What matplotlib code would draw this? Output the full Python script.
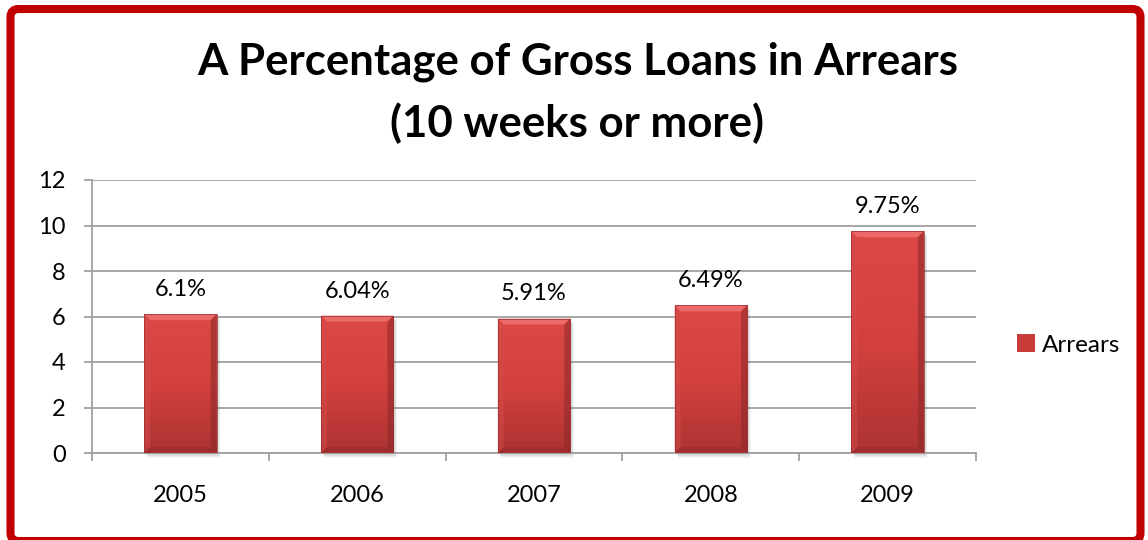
import numpy as np
import matplotlib
matplotlib.use('Agg')
import matplotlib.pyplot as plt
from matplotlib.patches import Polygon, Rectangle, FancyBboxPatch
from matplotlib.colors import LinearSegmentedColormap

# arrears as % of gross loans, 10 weeks or more
years = ['2005', '2006', '2007', '2008', '2009']
arrears = [6.1, 6.04, 5.91, 6.49, 9.75]
value_labels = ['6.1%', '6.04%', '5.91%', '6.49%', '9.75%']
y_ticks = [0, 2, 4, 6, 8, 10, 12]

plt.rcParams['font.family'] = ['Lato', 'DejaVu Sans']

W, H = 1148, 540
fig = plt.figure(figsize=(W / 100, H / 100), dpi=100)
ax_l, ax_r, ax_t, ax_b = 92, 976, 180, 453
ax = fig.add_axes([ax_l / W, 1 - ax_b / H, (ax_r - ax_l) / W, (ax_b - ax_t) / H])

xs = np.arange(len(years))
ax.set_xlim(-0.5, len(years) - 0.5)
ax.set_ylim(0, 12)

# size of one pixel in data units, used for bevel and shadow
px_x = len(years) / (ax_r - ax_l)
px_y = 12 / (ax_b - ax_t)

bars = ax.bar(xs, arrears, width=0.41, color='#C83C3A', zorder=3, label='Arrears')

face = LinearSegmentedColormap.from_list('face', ['#AC3332', '#D3413F', '#DC4846'])
grad = np.linspace(0, 1, 256).reshape(-1, 1)

for b in bars:
    x0, w, h = b.get_x(), b.get_width(), b.get_height()
    x1 = x0 + w
    # soft drop shadow right and below
    for k in range(1, 7):
        ax.add_patch(Rectangle((x0 + k * px_x * 0.6, -k * px_y * 0.8), w, h,
                               facecolor='#404040', alpha=0.05, lw=0,
                               zorder=2, clip_on=False))
    im = ax.imshow(grad, extent=[x0, x1, 0, h], origin='lower', aspect='auto',
                   cmap=face, zorder=3.5)
    im.set_clip_path(b)
    bx, by = 6 * px_x, 6 * px_y
    bevels = [
        ([(x0, h), (x1, h), (x1 - bx, h - by), (x0 + bx, h - by)], '#F07070', 0.85),
        ([(x0, 0), (x0, h), (x0 + bx, h - by), (x0 + bx, by)], '#D24B49', 0.5),
        ([(x1, 0), (x1, h), (x1 - bx, h - by), (x1 - bx, by)], '#8A2828', 0.55),
        ([(x0, 0), (x1, 0), (x1 - bx, by), (x0 + bx, by)], '#922A2A', 0.45),
    ]
    for pts, c, a in bevels:
        ax.add_patch(Polygon(pts, closed=True, facecolor=c, alpha=a, lw=0, zorder=4))
    ax.add_patch(Rectangle((x0, 0), w, h, fill=False, edgecolor='#9A3030',
                           lw=0.5, zorder=4.5))

for x, v, lab in zip(xs, arrears, value_labels):
    ax.annotate(lab, (x, v), xytext=(0, 13), textcoords='offset points',
                ha='center', va='baseline', fontsize=17, color='black')

grid_c = '#A0A0A0'
ax.set_yticks(y_ticks)
ax.yaxis.grid(True, color=grid_c, lw=1.3, zorder=1)
ax.set_axisbelow(True)
ax.set_xticks(xs)
ax.set_xticklabels(years)
ax.set_xticks(np.arange(-0.5, len(years)), minor=True)
ax.tick_params(axis='x', which='major', length=0, pad=23, labelsize=17)
ax.tick_params(axis='x', which='minor', length=6, width=1.3, color=grid_c)
ax.tick_params(axis='y', length=6, width=1.3, color=grid_c, pad=13, labelsize=17)
for s in ['top', 'right']:
    ax.spines[s].set_visible(False)
for s in ['left', 'bottom']:
    ax.spines[s].set_color(grid_c)
    ax.spines[s].set_linewidth(1.3)

fig.text(0.503, 1 - 75 / H, 'A Percentage of Gross Loans in Arrears',
         ha='center', va='baseline', fontsize=31.5, fontweight='bold')
fig.text(0.503, 1 - 137 / H, '(10 weeks or more)',
         ha='center', va='baseline', fontsize=31.5, fontweight='bold')

fig.legend(handles=[bars], loc='center left', bbox_to_anchor=(1007 / W, 1 - 345 / H),
           frameon=False, fontsize=17.5, handlelength=0.75, handleheight=0.75,
           handletextpad=0.3, borderaxespad=0)

# red frame round the whole chart
fig.patches.append(FancyBboxPatch((0.105, -0.01), 11.405 - 0.105, 5.31 + 0.01,
                                  boxstyle='round,pad=0,rounding_size=0.08',
                                  transform=fig.dpi_scale_trans, fill=False,
                                  edgecolor='#C00000', lw=5.8, zorder=10))

fig.savefig('out.png', dpi=100)
